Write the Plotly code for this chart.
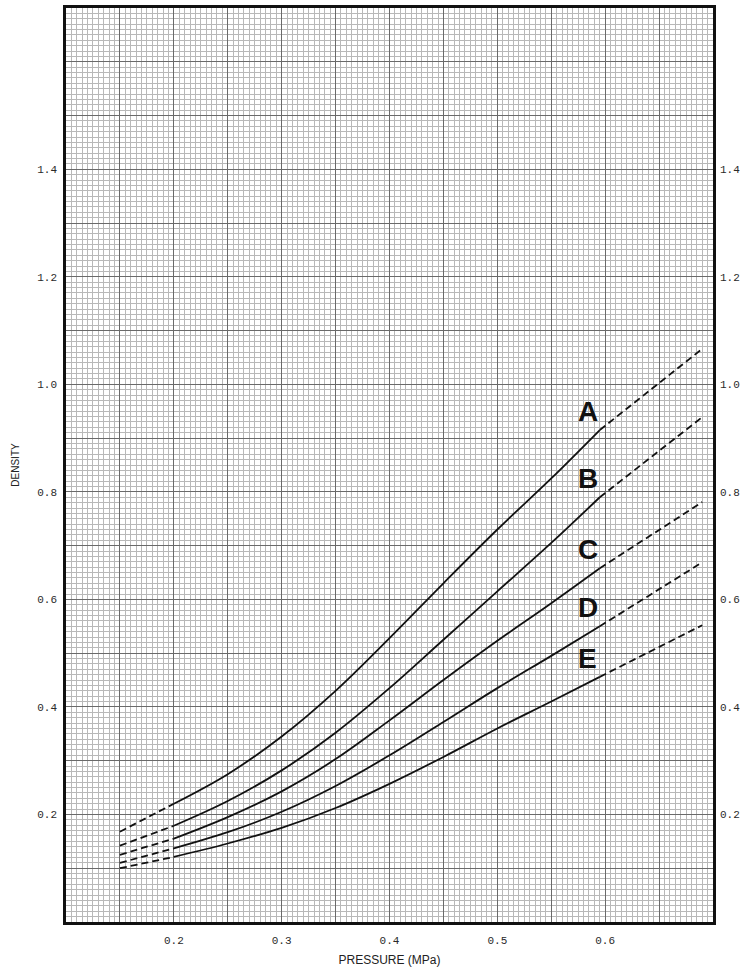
import plotly.graph_objects as go

# ---- data ----
series_names = ["A", "B", "C", "D", "E"]

pressure_low = [0.15, 0.2]
pressure_solid = [0.2, 0.25, 0.3, 0.35, 0.4, 0.45, 0.5, 0.55, 0.595]
pressure_high = [0.595, 0.69]

A_low = [0.168, 0.220]
B_low = [0.142, 0.179]
C_low = [0.125, 0.155]
D_low = [0.110, 0.137]
E_low = [0.100, 0.121]

A_solid = [0.220, 0.275, 0.345, 0.430, 0.528, 0.630, 0.730, 0.825, 0.915]
B_solid = [0.179, 0.225, 0.282, 0.352, 0.435, 0.525, 0.615, 0.705, 0.790]
C_solid = [0.155, 0.195, 0.243, 0.303, 0.375, 0.450, 0.523, 0.593, 0.658]
D_solid = [0.137, 0.167, 0.205, 0.253, 0.310, 0.372, 0.435, 0.495, 0.550]
E_solid = [0.121, 0.146, 0.175, 0.212, 0.257, 0.307, 0.360, 0.410, 0.456]

A_high = [0.915, 1.066]
B_high = [0.790, 0.939]
C_high = [0.658, 0.781]
D_high = [0.550, 0.669]
E_high = [0.456, 0.552]

x_tick_vals = [0.1, 0.15, 0.2, 0.25, 0.3, 0.35, 0.4, 0.45, 0.5, 0.55, 0.6, 0.65, 0.7]
x_tick_text = ["", "", "0.2", "", "0.3", "", "0.4", "", "0.5", "", "0.6", "", ""]
y_tick_vals = [0.0, 0.1, 0.2, 0.3, 0.4, 0.5, 0.6, 0.7, 0.8, 0.9, 1.0, 1.1, 1.2, 1.3, 1.4, 1.5, 1.6, 1.7]
y_tick_text = ["", "", "0.2", "", "0.4", "", "0.6", "", "0.8", "", "1.0", "", "1.2", "", "1.4", "", "", ""]

lows = [A_low, B_low, C_low, D_low, E_low]
solids = [A_solid, B_solid, C_solid, D_solid, E_solid]
highs = [A_high, B_high, C_high, D_high, E_high]

fig = go.Figure()
line_col = "#111111"
for name, lo, so, hi in zip(series_names, lows, solids, highs):
    fig.add_trace(go.Scatter(x=pressure_low, y=lo, mode="lines",
                             line=dict(color=line_col, width=1.8, dash="7px,4px"),
                             showlegend=False, hoverinfo="skip"))
    fig.add_trace(go.Scatter(x=pressure_solid, y=so, mode="lines", name=name,
                             line=dict(color=line_col, width=1.8, shape="spline", smoothing=1.0),
                             showlegend=False))
    fig.add_trace(go.Scatter(x=pressure_high, y=hi, mode="lines",
                             line=dict(color=line_col, width=1.8, dash="7px,4px"),
                             showlegend=False, hoverinfo="skip"))
    fig.add_annotation(x=0.584, y=so[-1], text="<b>%s</b>" % name, showarrow=False,
                       xanchor="center", yanchor="bottom", yshift=1,
                       font=dict(family="Liberation Sans", size=28, color="#111111"))

# invisible trace for the right-hand axis
fig.add_trace(go.Scatter(x=[0.1], y=[0], yaxis="y2", mode="markers",
                         marker=dict(opacity=0), showlegend=False, hoverinfo="skip"))

tick_font = dict(family="Liberation Mono", size=11, color="#2a2a2a")
fig.update_layout(
    width=753, height=971,
    margin=dict(l=66, r=40, t=8, b=49),
    paper_bgcolor="white", plot_bgcolor="white",
    xaxis=dict(range=[0.1, 0.7], tickmode="array", tickvals=x_tick_vals, ticktext=x_tick_text,
               showgrid=True, gridcolor="#6a6a6a", gridwidth=1,
               minor=dict(tick0=0.1, dtick=0.005, showgrid=True, gridcolor="#b8b8b8", gridwidth=1),
               showline=True, linecolor="#111111", linewidth=2.5, mirror=True,
               ticks="", tickfont=tick_font, zeroline=False, ticklabelstandoff=6,
               automargin=False,
               title=dict(text="PRESSURE (MPa)", standoff=10,
                          font=dict(family="Liberation Sans", size=12, color="#222222"))),
    yaxis=dict(range=[0, 1.7], tickmode="array", tickvals=y_tick_vals, ticktext=y_tick_text,
               showgrid=True, gridcolor="#6a6a6a", gridwidth=1,
               minor=dict(tick0=0, dtick=0.01, showgrid=True, gridcolor="#b8b8b8", gridwidth=1),
               showline=True, linecolor="#111111", linewidth=2.5, mirror=True,
               ticks="", tickfont=tick_font, zeroline=False, ticklabelstandoff=4,
               automargin=False,
               title=dict(text="DENSITY", standoff=16,
                          font=dict(family="Liberation Sans", size=10, color="#222222"))),
    yaxis2=dict(range=[0, 1.7], overlaying="y", side="right", matches="y",
                tickmode="array", tickvals=y_tick_vals, ticktext=y_tick_text,
                showgrid=False, ticks="", tickfont=tick_font, zeroline=False,
                showline=False, ticklabelstandoff=6, automargin=False),
)

fig.write_html("out.html")
